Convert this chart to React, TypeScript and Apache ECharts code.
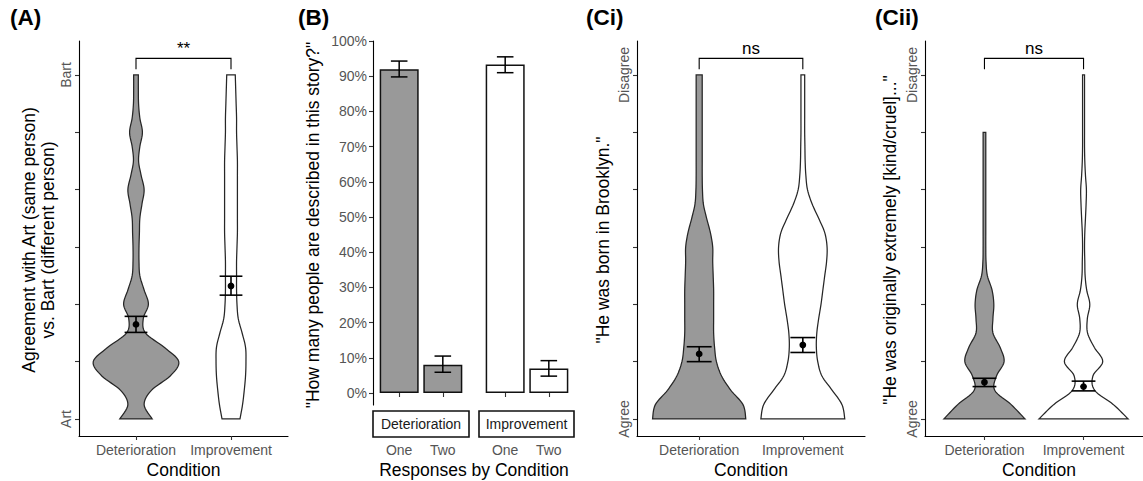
import React, { useEffect, useRef } from 'react';
import * as echarts from 'echarts';

// ---------- data ----------
const conditions = ['Deterioration', 'Improvement'];
const responses = ['One', 'Two'];
const scaleTicks = [1, 2, 3, 4, 5, 6, 7];
const percentTicks = [0, 0.1, 0.2, 0.3, 0.4, 0.5, 0.6, 0.7, 0.8, 0.9, 1.0];

// density sample levels on the 1..7 agreement scale
const levels = [1, 1.25, 1.5, 1.75, 2, 2.25, 2.5, 2.75, 3, 3.25, 3.5, 3.75, 4, 4.25, 4.5, 4.75, 5, 5.25, 5.5, 5.75, 6, 6.25, 6.5, 6.75, 7];

// relative violin widths (1 = widest violin of the panel)
const densA_Det = [0.38, 0.19, 0.36, 0.8, 1.0, 0.66, 0.22, 0.17, 0.29, 0.19, 0.09, 0.07, 0.07, 0.08, 0.09, 0.14, 0.19, 0.12, 0.06, 0.09, 0.15, 0.09, 0.06, 0.055, 0.055];
const densA_Imp = [0.21, 0.27, 0.31, 0.34, 0.35, 0.34, 0.26, 0.17, 0.14, 0.13, 0.13, 0.13, 0.14, 0.15, 0.15, 0.15, 0.15, 0.15, 0.15, 0.14, 0.13, 0.13, 0.12, 0.11, 0.1];
const densCi_Det = [1.0, 0.94, 0.68, 0.48, 0.37, 0.33, 0.31, 0.31, 0.31, 0.31, 0.3, 0.29, 0.29, 0.24, 0.16, 0.09, 0.07, 0.065, 0.065, 0.065, 0.065, 0.065, 0.065, 0.065, 0.065];
const densCi_Imp = [0.9, 0.84, 0.63, 0.41, 0.32, 0.29, 0.3, 0.34, 0.39, 0.43, 0.47, 0.51, 0.52, 0.47, 0.34, 0.2, 0.1, 0.065, 0.05, 0.045, 0.04, 0.04, 0.04, 0.04, 0.04];
const densCii_Det = [0.91, 0.6, 0.23, 0.27, 0.44, 0.35, 0.19, 0.19, 0.21, 0.17, 0.065, 0.035, 0.03, 0.03, 0.03, 0.03, 0.03, 0.03, 0.03, 0.03, 0.03, null, null, null, null];
const densCii_Imp = [1.0, 0.67, 0.25, 0.21, 0.43, 0.24, 0.09, 0.085, 0.14, 0.07, 0.035, 0.028, 0.022, 0.028, 0.043, 0.057, 0.064, 0.043, 0.028, 0.022, 0.022, 0.022, 0.022, 0.022, 0.022];

// mean and standard-error bounds per condition
const meanA = [2.65, 3.32];
const loA = [2.51, 3.16];
const hiA = [2.79, 3.49];
const meanCi = [2.135, 2.29];
const loCi = [2.0, 2.16];
const hiCi = [2.26, 2.42];
const meanCii = [1.64, 1.565];
const loCii = [1.565, 1.49];
const hiCii = [1.71, 1.66];

// panel B proportions
const pctDet = [0.92, 0.08];
const pctDetLo = [0.898, 0.059];
const pctDetHi = [0.943, 0.105];
const pctImp = [0.933, 0.07];
const pctImpLo = [0.91, 0.048];
const pctImpHi = [0.955, 0.092];

// significance annotations
const sigLabels = ['**', 'ns', 'ns'];
const sigBracketY = 7.29;
const sigLegY = 7.1;

// ---------- helpers ----------
const FONT = "'Liberation Sans', Arial, sans-serif";
const GREY = '#999999';

function catmull(pts: number[][], seg = 8): number[][] {
  const out: number[][] = [];
  for (let i = 0; i < pts.length - 1; i++) {
    const p0 = pts[i - 1] || pts[i];
    const p1 = pts[i];
    const p2 = pts[i + 1];
    const p3 = pts[i + 2] || pts[i + 1];
    for (let t = 0; t < seg; t++) {
      const s = t / seg, s2 = s * s, s3 = s2 * s;
      out.push([0, 1].map((k) =>
        0.5 * (2 * p1[k] + (-p0[k] + p2[k]) * s + (2 * p0[k] - 5 * p1[k] + 4 * p2[k] - p3[k]) * s2 + (-p0[k] + 3 * p1[k] - 3 * p2[k] + p3[k]) * s3)
      ));
    }
  }
  out.push(pts[pts.length - 1]);
  return out;
}

function violinSeries(axisIndex: number, profiles: (number | null)[][]) {
  return {
    type: 'custom',
    xAxisIndex: axisIndex,
    yAxisIndex: axisIndex,
    data: conditions.map((_, i) => [i + 1, 1, i]),
    encode: { x: 0, y: 1 },
    renderItem: (params: any, api: any) => {
      const cx = api.value(0);
      const idx = api.value(2);
      const dens = profiles[idx];
      const samples: number[][] = [];
      for (let i = 0; i < levels.length; i++) {
        if (dens[i] == null) continue;
        samples.push([levels[i], (dens[i] as number) * 0.45]);
      }
      const sm = catmull(samples).map(([lv, hw]) => [lv, Math.max(hw, 0.008)]);
      const right = sm.map(([lv, hw]) => api.coord([cx + hw, lv]));
      const left = sm.map(([lv, hw]) => api.coord([cx - hw, lv])).reverse();
      return {
        type: 'polygon',
        shape: { points: right.concat(left) },
        style: { fill: idx === 0 ? GREY : '#ffffff', stroke: '#262626', lineWidth: 1.25 },
      };
    },
    z: 2,
  };
}

function meanSeries(axisIndex: number, mean: number[], lo: number[], hi: number[]) {
  return {
    type: 'custom',
    xAxisIndex: axisIndex,
    yAxisIndex: axisIndex,
    data: mean.map((m, i) => [i + 1, m, lo[i], hi[i]]),
    encode: { x: 0, y: 1 },
    renderItem: (params: any, api: any) => {
      const x = api.value(0);
      const m = api.coord([x, api.value(1)]);
      const l = api.coord([x, api.value(2)]);
      const h = api.coord([x, api.value(3)]);
      const l0 = api.coord([x - 0.12, api.value(2)]);
      const l1 = api.coord([x + 0.12, api.value(2)]);
      const h0 = api.coord([x - 0.12, api.value(3)]);
      const h1 = api.coord([x + 0.12, api.value(3)]);
      const st = { stroke: '#000', lineWidth: 1.6 };
      return {
        type: 'group',
        children: [
          { type: 'line', shape: { x1: l[0], y1: l[1], x2: h[0], y2: h[1] }, style: st },
          { type: 'line', shape: { x1: l0[0], y1: l0[1], x2: l1[0], y2: l1[1] }, style: st },
          { type: 'line', shape: { x1: h0[0], y1: h0[1], x2: h1[0], y2: h1[1] }, style: st },
          { type: 'circle', shape: { cx: m[0], cy: m[1], r: 3.4 }, style: { fill: '#000' } },
        ],
      };
    },
    z: 3,
  };
}

function bracketSeries(axisIndex: number, label: string) {
  return {
    type: 'custom',
    xAxisIndex: axisIndex,
    yAxisIndex: axisIndex,
    data: [[1, sigBracketY, 2, sigLegY]],
    encode: { x: 0, y: 1 },
    renderItem: (params: any, api: any) => {
      const a = api.coord([api.value(0), api.value(3)]);
      const b = api.coord([api.value(0), api.value(1)]);
      const c = api.coord([api.value(2), api.value(1)]);
      const d = api.coord([api.value(2), api.value(3)]);
      return {
        type: 'group',
        children: [
          { type: 'polyline', shape: { points: [a, b, c, d] }, style: { stroke: '#000', lineWidth: 1.1, fill: null } },
          {
            type: 'text',
            x: (b[0] + c[0]) / 2,
            y: b[1] - 1,
            style: { text: label, align: 'center', verticalAlign: 'bottom', font: `17px ${FONT}`, fill: '#000' },
          },
        ],
      };
    },
    z: 3,
  };
}

function violinX(gridIndex: number) {
  return {
    type: 'value', gridIndex, min: 0.4, max: 2.6,
    axisLine: { show: true, onZero: false, lineStyle: { color: '#000', width: 1.1 } },
    axisTick: { show: true, customValues: [1, 2], length: 4, lineStyle: { color: '#333', width: 1.1 } },
    axisLabel: { show: true, customValues: [1, 2], formatter: (v: number) => conditions[Math.round(v) - 1] || '', margin: 7, fontSize: 14, color: '#555', fontFamily: FONT },
    splitLine: { show: false },
  };
}

function violinY(gridIndex: number, low: string, high: string) {
  return {
    type: 'value', gridIndex, min: 0.703, max: 7.593,
    axisLine: { show: true, onZero: false, lineStyle: { color: '#000', width: 1.1 } },
    axisTick: { show: true, customValues: scaleTicks, length: 4, lineStyle: { color: '#333', width: 1.1 } },
    axisLabel: { show: true, customValues: [1, 7], rotate: 90, formatter: (v: number) => (v < 4 ? low : high), margin: 6, fontSize: 14, color: '#555', fontFamily: FONT },
    splitLine: { show: false },
  };
}

function barX(gridIndex: number) {
  return {
    type: 'value', gridIndex, min: 0.4, max: 2.6, offset: 32,
    axisLine: { show: false },
    axisTick: { show: true, customValues: [1, 2], length: 4, lineStyle: { color: '#333', width: 1.1 } },
    axisLabel: { show: true, customValues: [1, 2], formatter: (v: number) => responses[Math.round(v) - 1] || '', margin: 6, fontSize: 14, color: '#555', fontFamily: FONT },
    splitLine: { show: false },
  };
}

function barErr(axisIndex: number, lo: number[], hi: number[]) {
  return {
    type: 'custom',
    xAxisIndex: axisIndex,
    yAxisIndex: axisIndex,
    data: lo.map((l, i) => [i + 1, l, hi[i]]),
    encode: { x: 0, y: 1 },
    renderItem: (params: any, api: any) => {
      const x = api.value(0);
      const l = api.coord([x, api.value(1)]);
      const h = api.coord([x, api.value(2)]);
      const l0 = api.coord([x - 0.19, api.value(1)]);
      const l1 = api.coord([x + 0.19, api.value(1)]);
      const h0 = api.coord([x - 0.19, api.value(2)]);
      const h1 = api.coord([x + 0.19, api.value(2)]);
      const st = { stroke: '#000', lineWidth: 1.5 };
      return {
        type: 'group',
        children: [
          { type: 'line', shape: { x1: l[0], y1: l[1], x2: h[0], y2: h[1] }, style: st },
          { type: 'line', shape: { x1: l0[0], y1: l0[1], x2: l1[0], y2: l1[1] }, style: st },
          { type: 'line', shape: { x1: h0[0], y1: h0[1], x2: h1[0], y2: h1[1] }, style: st },
        ],
      };
    },
    z: 4,
  };
}

function titleText(text: string, x: number, y: number) {
  return { type: 'text', x, y, style: { text, font: `bold 22.5px ${FONT}`, fill: '#000', align: 'left', verticalAlign: 'middle' } };
}
function axisTitle(text: string, x: number, y: number, rotate = false) {
  return {
    type: 'text', x, y, rotation: rotate ? Math.PI / 2 : 0,
    style: { text, font: `17.5px ${FONT}`, fill: '#000', align: 'center', verticalAlign: 'middle', lineHeight: 19 },
  };
}

export default function App() {
  const ref = useRef<HTMLDivElement>(null);
  useEffect(() => {
    document.body.style.margin = '0';
    const chart = echarts.init(ref.current!, null, { renderer: 'svg' });
    const option: any = {
      animation: false,
      backgroundColor: '#ffffff',
      textStyle: { fontFamily: FONT },
      grid: [
        { left: 79, top: 41, width: 209, height: 395 },
        { left: 373, top: 41, width: 96, height: 364 },
        { left: 479, top: 41, width: 96, height: 364 },
        { left: 637, top: 41, width: 228, height: 395 },
        { left: 925, top: 41, width: 229, height: 395 },
      ],
      xAxis: [violinX(0), barX(1), barX(2), violinX(3), violinX(4)],
      yAxis: [
        violinY(0, 'Art', 'Bart'),
        {
          type: 'value', gridIndex: 1, min: -0.034, max: 1,
          axisLine: { show: true, onZero: false, lineStyle: { color: '#000', width: 1.1 } },
          axisTick: { show: true, customValues: percentTicks, length: 4, lineStyle: { color: '#333', width: 1.1 } },
          axisLabel: { show: true, customValues: percentTicks, formatter: (v: number) => `${Math.round(v * 100)}%`, margin: 6, fontSize: 14, color: '#555', fontFamily: FONT },
          splitLine: { show: false },
        },
        { type: 'value', gridIndex: 2, min: -0.034, max: 1, show: false, splitLine: { show: false } },
        violinY(3, 'Agree', 'Disagree'),
        violinY(4, 'Agree', 'Disagree'),
      ],
      series: [
        violinSeries(0, [densA_Det, densA_Imp]),
        meanSeries(0, meanA, loA, hiA),
        bracketSeries(0, sigLabels[0]),
        {
          type: 'bar', xAxisIndex: 1, yAxisIndex: 1, barWidth: 39,
          data: pctDet.map((v, i) => [i + 1, v]),
          itemStyle: { color: GREY, borderColor: '#111', borderWidth: 1.5 },
        },
        barErr(1, pctDetLo, pctDetHi),
        {
          type: 'bar', xAxisIndex: 2, yAxisIndex: 2, barWidth: 39,
          data: pctImp.map((v, i) => [i + 1, v]),
          itemStyle: { color: '#ffffff', borderColor: '#111', borderWidth: 1.5 },
        },
        barErr(2, pctImpLo, pctImpHi),
        violinSeries(3, [densCi_Det, densCi_Imp]),
        meanSeries(3, meanCi, loCi, hiCi),
        bracketSeries(3, sigLabels[1]),
        violinSeries(4, [densCii_Det, densCii_Imp]),
        meanSeries(4, meanCii, loCii, hiCii),
        bracketSeries(4, sigLabels[2]),
      ],
      graphic: [
        titleText('(A)', 10, 17),
        titleText('(B)', 298, 17),
        titleText('(Ci)', 586, 17),
        titleText('(Cii)', 875, 17),
        axisTitle('Agreement with Art (same person)\nvs. Bart (different person)', 38, 240, true),
        axisTitle('"How many people are described in this story?"', 313, 225, true),
        axisTitle('"He was born in Brooklyn."', 603, 240, true),
        axisTitle('"He was originally extremely [kind/cruel]..."', 890, 240, true),
        axisTitle('Condition', 183.5, 470),
        axisTitle('Responses by Condition', 474, 470),
        axisTitle('Condition', 751, 470),
        axisTitle('Condition', 1039, 470),
        {
          type: 'group',
          children: [
            { type: 'rect', shape: { x: 373, y: 411, width: 96, height: 26 }, style: { fill: '#fff', stroke: '#111', lineWidth: 1.6 } },
            { type: 'text', x: 421, y: 424, style: { text: conditions[0], font: `14px ${FONT}`, fill: '#1a1a1a', align: 'center', verticalAlign: 'middle' } },
            { type: 'rect', shape: { x: 479, y: 411, width: 95, height: 26 }, style: { fill: '#fff', stroke: '#111', lineWidth: 1.6 } },
            { type: 'text', x: 526.5, y: 424, style: { text: conditions[1], font: `14px ${FONT}`, fill: '#1a1a1a', align: 'center', verticalAlign: 'middle' } },
          ],
        },
      ],
    };
    chart.setOption(option);
    return () => chart.dispose();
  }, []);
  return <div ref={ref} style={{ width: 1143, height: 481 }} />;
}
